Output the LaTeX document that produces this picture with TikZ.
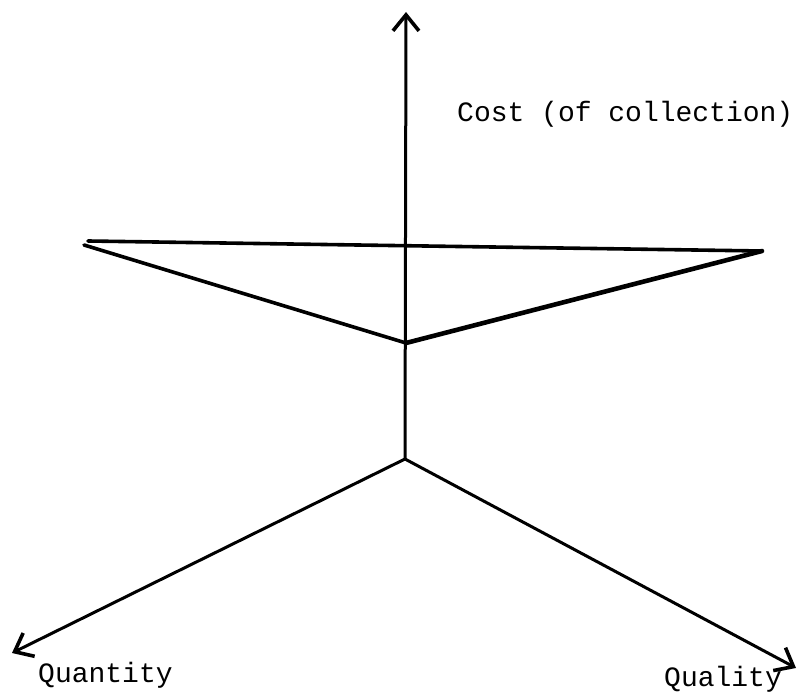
\documentclass[tikz,border=0pt]{standalone}
\usepackage{fontspec}
\setmainfont{Liberation Mono}
\usetikzlibrary{arrows.meta}
\tikzset{
  axis/.style={line width=3pt, -{Straight Barb[length=16pt,width=26pt,line width=3.6pt]}},
  tri/.style={line width=3.6pt, line cap=round},
  trithick/.style={line width=4.6pt, line cap=round},
  lbl/.style={font=\fontsize{28}{30}\selectfont, inner sep=0pt, anchor=base west}
}
\begin{document}
\begin{tikzpicture}[x=1pt,y=-1pt]
\useasboundingbox (0,0) rectangle (798,692);
\fill[white] (0,0) rectangle (798,692);
\coordinate (O) at (405,459);
\coordinate (top) at (406,12);
\coordinate (left) at (12,653);
\coordinate (right) at (796,668);
\coordinate (A) at (88,241);
\coordinate (A2) at (84,245);
\coordinate (B) at (762,251);
\coordinate (C) at (406,343);
\draw[axis] (O) -- (top);
\draw[axis] (O) -- (left);
\draw[axis] (O) -- (right);
\draw[tri] (A) -- (B);
\draw[tri] (A2) -- (C);
\draw[trithick] (C) -- (B);
\node[lbl] (cost) at (457,122) {Cost (of collection)};
\node[lbl] (qty) at (38,682) {Quantity};
\node[lbl] (qly) at (664,686) {Quality};
\end{tikzpicture}
\end{document}
